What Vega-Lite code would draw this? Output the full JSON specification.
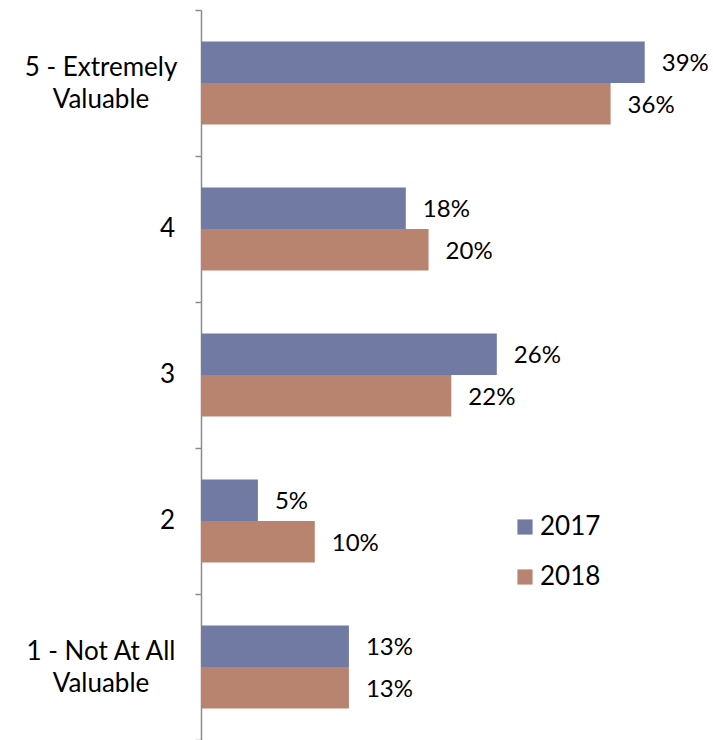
{
  "$schema": "https://vega.github.io/schema/vega-lite/v6.json",
  "autosize": "none",
  "width": 512,
  "height": 730,
  "padding": {"left": 201, "top": 10, "right": 0, "bottom": 0},
  "background": "white",
  "config": {
    "view": {"stroke": null},
    "font": "Lato",
    "text": {"font": "Lato"}
  },
  "data": {
    "values": [
      {"rating": "5 - Extremely|Valuable", "year": "2017", "value": 0.39},
      {"rating": "5 - Extremely|Valuable", "year": "2018", "value": 0.36},
      {"rating": "4", "year": "2017", "value": 0.18},
      {"rating": "4", "year": "2018", "value": 0.20},
      {"rating": "3", "year": "2017", "value": 0.26},
      {"rating": "3", "year": "2018", "value": 0.22},
      {"rating": "2", "year": "2017", "value": 0.05},
      {"rating": "2", "year": "2018", "value": 0.10},
      {"rating": "1 - Not At All|Valuable", "year": "2017", "value": 0.13},
      {"rating": "1 - Not At All|Valuable", "year": "2018", "value": 0.13}
    ]
  },
  "encoding": {
    "y": {
      "field": "rating",
      "type": "nominal",
      "sort": null,
      "scale": {"paddingInner": 0, "paddingOuter": 0},
      "axis": {
        "title": null,
        "labels": false,
        "tickBand": "extent",
        "tickSize": 6,
        "tickColor": "#8C8C8C",
        "tickWidth": 1.5,
        "domainColor": "#8C8C8C",
        "domainWidth": 1.5,
        "grid": false
      }
    },
    "x": {
      "field": "value",
      "type": "quantitative",
      "scale": {"domain": [0, 0.45], "nice": false},
      "axis": null
    }
  },
  "layer": [
    {
      "mark": {"type": "bar"},
      "encoding": {
        "yOffset": {
          "field": "year",
          "type": "nominal",
          "scale": {"paddingInner": 0, "paddingOuter": 0.76}
        },
        "color": {
          "field": "year",
          "type": "nominal",
          "scale": {"domain": ["2017", "2018"], "range": ["#707AA2", "#B8836F"]},
          "legend": {
            "title": null,
            "orient": "none",
            "legendX": 311,
            "legendY": 504,
            "symbolType": "square",
            "symbolSize": 230,
            "symbolStrokeWidth": 0,
            "labelFont": "Lato",
            "labelFontSize": 26,
            "labelColor": "#000000",
            "labelOffset": 2,
            "rowPadding": 24
          }
        }
      }
    },
    {
      "mark": {"type": "text", "align": "left", "baseline": "middle", "dx": 17, "dy": 2, "fontSize": 24, "font": "Lato", "color": "#000000"},
      "encoding": {
        "yOffset": {"field": "year", "type": "nominal"},
        "text": {"field": "value", "type": "quantitative", "format": ".0%"}
      }
    },
    {
      "transform": [{"filter": "datum.year == '2017' && indexof(datum.rating, '|') < 0"}],
      "mark": {"type": "text", "align": "right", "baseline": "middle", "dx": -26, "fontSize": 26, "font": "Lato", "color": "#000000"},
      "encoding": {
        "x": {"datum": 0},
        "text": {"field": "rating", "type": "nominal"}
      }
    },
    {
      "transform": [{"filter": "datum.year == '2017' && indexof(datum.rating, '|') >= 0"}],
      "mark": {"type": "text", "align": "center", "baseline": "middle", "dx": -100, "dy": -15, "lineBreak": "|", "lineHeight": 32, "fontSize": 26, "font": "Lato", "color": "#000000"},
      "encoding": {
        "x": {"datum": 0},
        "text": {"field": "rating", "type": "nominal"}
      }
    }
  ]
}
